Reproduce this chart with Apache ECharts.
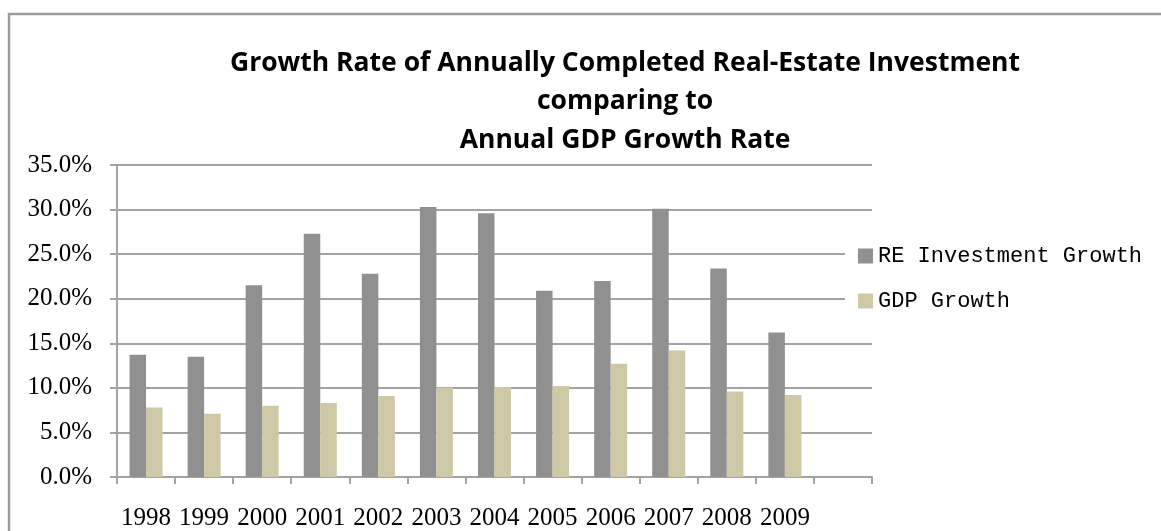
<!DOCTYPE html>
<html>
<head>
<meta charset="utf-8">
<script src="https://cdn.jsdelivr.net/npm/echarts@6/dist/echarts.min.js"></script>
<style>
html,body{margin:0;padding:0;background:#fff;}
#c{width:1161px;height:531px;}
</style>
</head>
<body>
<div id="c"></div>
<script>
const years = ['1998','1999','2000','2001','2002','2003','2004','2005','2006','2007','2008','2009',''];
const reGrowth = [13.7, 13.5, 21.5, 27.3, 22.8, 30.3, 29.6, 20.9, 22.0, 30.1, 23.4, 16.2];
const gdpGrowth = [7.8, 7.1, 8.0, 8.3, 9.1, 10.0, 10.1, 10.2, 12.7, 14.2, 9.6, 9.2];
const yTicks = {min: 0, max: 35, interval: 5};
const titleLines = ['Growth Rate of Annually Completed Real-Estate Investment', 'comparing to', 'Annual GDP Growth Rate'];
const seriesNames = ['RE Investment Growth', 'GDP Growth'];

const chart = echarts.init(document.getElementById('c'));
const axisGray = '#a3a3a3';
chart.setOption({
  animation: false,
  backgroundColor: '#fff',
  graphic: [
    {type: 'polyline', shape: {points: [[9, 531], [9, 14], [1161, 14]]}, style: {stroke: '#9c9c9c', lineWidth: 2.5, fill: null}, z: 10},
    {type: 'text', x: 625, y: 101.5, style: {text: titleLines.join('\n'), align: 'center', verticalAlign: 'middle', lineHeight: 38.5, font: 'bold 26.5px "Open Sans"', fill: '#000'}}
  ],
  legend: {
    orient: 'vertical',
    left: 845,
    top: 235,
    padding: [10, 10, 10, 13],
    backgroundColor: '#fff',
    icon: 'rect',
    itemWidth: 15,
    itemHeight: 15,
    itemGap: 23,
    textStyle: {fontFamily: '"Liberation Mono"', fontSize: 22, color: '#000', lineHeight: 22},
    data: seriesNames
  },
  grid: {left: 117, right: 289, top: 165, bottom: 54, containLabel: false},
  xAxis: {
    type: 'category',
    data: years,
    boundaryGap: true,
    axisLine: {lineStyle: {color: axisGray, width: 2}},
    axisTick: {show: true, length: 7, alignWithLabel: false, interval: 0, lineStyle: {color: axisGray, width: 2}},
    axisLabel: {interval: 0, margin: 29, fontFamily: '"Liberation Serif"', fontSize: 25, color: '#000'}
  },
  yAxis: {
    type: 'value',
    min: yTicks.min, max: yTicks.max, interval: yTicks.interval,
    axisLine: {show: true, lineStyle: {color: axisGray, width: 2}},
    axisTick: {show: true, length: 7, lineStyle: {color: axisGray, width: 2}},
    splitLine: {show: true, lineStyle: {color: axisGray, width: 2}},
    axisLabel: {margin: 25, fontFamily: '"Liberation Serif"', fontSize: 25, color: '#000', formatter: v => v.toFixed(1) + '%'}
  },
  series: [
    {name: seriesNames[0], type: 'bar', data: reGrowth, barWidth: 16.5, barGap: '0%', itemStyle: {color: '#909090'}},
    {name: seriesNames[1], type: 'bar', data: gdpGrowth, barWidth: 16.5, barGap: '0%', itemStyle: {color: '#cfc8a6'}}
  ]
});
</script>
</body>
</html>
